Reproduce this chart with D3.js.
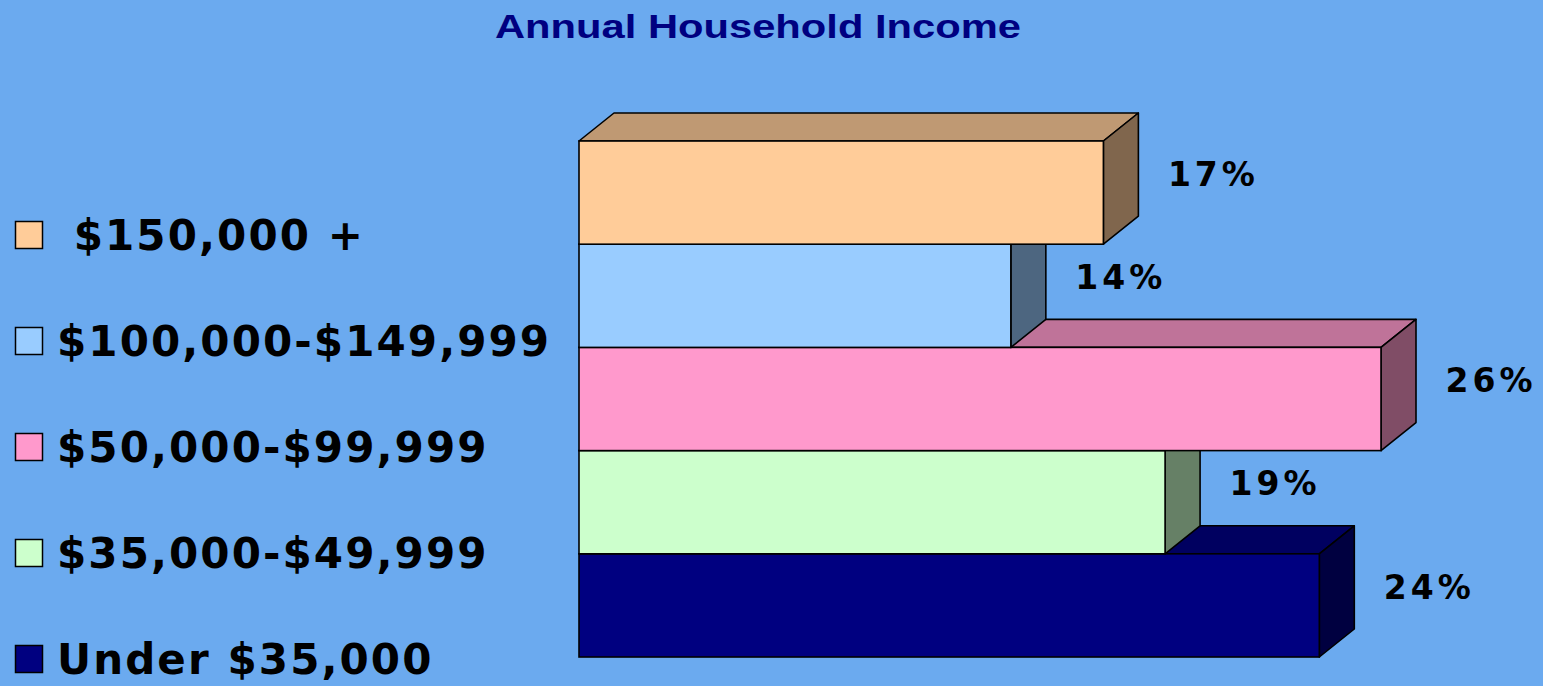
<!DOCTYPE html>
<html>
<head>
<meta charset="utf-8">
<script src="https://cdn.jsdelivr.net/npm/d3@7"></script>
<style>
  html, body { margin: 0; padding: 0; background: #6BAAEF; }
  svg { display: block; }
</style>
</head>
<body>
<svg width="1543" height="686"></svg>
<script>
// chart values, top bar first
const categories = [" $150,000 +", "$100,000-$149,999", "$50,000-$99,999", "$35,000-$49,999", "Under $35,000"];
const values = [17, 14, 26, 19, 24];
const colors = ["#FFCC99", "#99CCFF", "#FF99CC", "#CCFFCC", "#000080"];
const valueLabels = ["17%", "14%", "26%", "19%", "24%"];

const W = 1543, H = 686;
const depth = {x: 35, y: -28};

const svg = d3.select("svg");

svg.append("rect")
    .attr("width", W).attr("height", H)
    .attr("fill", "#6BAAEF");

// title (glyphs stretched a little wider, like the original)
svg.append("text")
    .attr("x", 495).attr("y", 38)
    .attr("font-family", "Liberation Sans, Arial, sans-serif")
    .attr("font-weight", "bold")
    .attr("font-size", 34)
    .attr("textLength", 526)
    .attr("lengthAdjust", "spacingAndGlyphs")
    .attr("fill", "#000080")
    .text("Annual Household Income");

const x = d3.scaleLinear().domain([0, 26]).range([579, 1381]);
const y = d3.scaleBand().domain(categories).range([141, 657]).padding(0);

const rows = categories.map((c, i) => ({cat: c, value: values[i], color: colors[i], label: valueLabels[i]}));

let shade = (c, k) => d3.interpolateRgb(c, "#000")(k);

// draw bottom bar first so upper bars hide faces behind them
let bars = svg.append("g").selectAll("g.bar")
    .data(rows.slice().reverse())
    .join("g")
    .attr("class", "bar");

bars.each(function(d) {
    let g = d3.select(this);
    let x0 = x(0), x1 = x(d.value);
    let y0 = y(d.cat), y1 = y0 + y.bandwidth();
    let dx = depth.x, dy = depth.y;

    // top face
    g.append("path")
        .attr("d", `M${x0},${y0}L${x0 + dx},${y0 + dy}L${x1 + dx},${y0 + dy}L${x1},${y0}Z`)
        .attr("fill", shade(d.color, 0.25))
        .attr("stroke", "#000").attr("stroke-width", 1.6).attr("stroke-linejoin", "round");
    // side face
    g.append("path")
        .attr("d", `M${x1},${y0}L${x1 + dx},${y0 + dy}L${x1 + dx},${y1 + dy}L${x1},${y1}Z`)
        .attr("fill", shade(d.color, 0.5))
        .attr("stroke", "#000").attr("stroke-width", 1.6).attr("stroke-linejoin", "round");
    // front face
    g.append("rect")
        .attr("x", x0).attr("y", y0)
        .attr("width", x1 - x0).attr("height", y1 - y0)
        .attr("fill", d.color)
        .attr("stroke", "#000").attr("stroke-width", 1.6);
});

// value labels
svg.append("g").selectAll("text")
    .data(rows)
    .join("text")
    .attr("x", d => x(d.value) + 110)
    .attr("y", d => y(d.cat) + 33)
    .attr("dy", "0.36em")
    .attr("text-anchor", "middle")
    .attr("font-family", "DejaVu Sans, Verdana, sans-serif")
    .attr("font-weight", "bold")
    .attr("font-size", 33)
    .attr("letter-spacing", 4)
    .attr("fill", "#000")
    .text(d => d.label);

// legend
const ly = d3.scalePoint().domain(categories).range([235, 659]);
let legend = svg.append("g").selectAll("g")
    .data(rows)
    .join("g")
    .attr("transform", d => `translate(0,${ly(d.cat)})`);

legend.append("rect")
    .attr("x", 15.5).attr("y", -13.5)
    .attr("width", 27).attr("height", 27)
    .attr("fill", d => d.color)
    .attr("stroke", "#000").attr("stroke-width", 1.5);

legend.append("text")
    .attr("x", 57).attr("y", 15)
    .attr("font-family", "DejaVu Sans, Verdana, sans-serif")
    .attr("font-weight", "bold")
    .attr("font-size", 42)
    .attr("letter-spacing", 2.1)
    .style("white-space", "pre")
    .attr("fill", "#000")
    .text(d => d.cat);
</script>
</body>
</html>
